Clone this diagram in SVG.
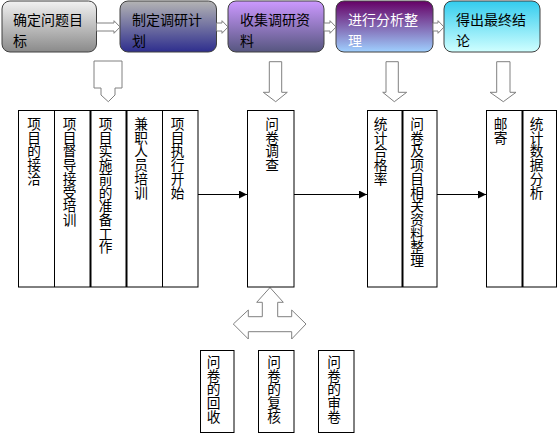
<svg xmlns="http://www.w3.org/2000/svg" width="558" height="434" viewBox="0 0 558 434">
<defs>
<linearGradient id="g1" x1="0" y1="0" x2="0" y2="1"><stop offset="0" stop-color="#f2f2f2"/><stop offset="1" stop-color="#8a8a8a"/></linearGradient>
<linearGradient id="g2" x1="0" y1="0" x2="0" y2="1"><stop offset="0" stop-color="#b4b4b4"/><stop offset="1" stop-color="#2e2e8e"/></linearGradient>
<linearGradient id="g3" x1="0" y1="0" x2="0" y2="1"><stop offset="0" stop-color="#cc99ff"/><stop offset="1" stop-color="#565680"/></linearGradient>
<linearGradient id="g4" x1="0" y1="0" x2="0" y2="1"><stop offset="0" stop-color="#660066"/><stop offset="1" stop-color="#9fd0ff"/></linearGradient>
<linearGradient id="g5" x1="0" y1="0" x2="0" y2="1"><stop offset="0" stop-color="#33ccee"/><stop offset="1" stop-color="#d0ffff"/></linearGradient>
<marker id="ah" viewBox="0 0 10 10" refX="10" refY="5" markerWidth="8" markerHeight="8" markerUnits="userSpaceOnUse" orient="auto"><path d="M0,0 L10,5 L0,10 Z" fill="#000"/></marker>
</defs>
<style>
.tb{stroke:#404040;stroke-width:1}
.tt{font-family:"Noto Sans CJK SC","Noto Sans",sans-serif;font-size:14px;fill:#000}
.tw{fill:#fff}
.vt{font-family:"Noto Sans CJK SC","Noto Sans",sans-serif;font-size:13.7px;fill:#000;writing-mode:vertical-rl;text-orientation:upright}
.box{fill:#fff;stroke:#000;stroke-width:1}
.thick{stroke:#000;stroke-width:2}
.thin{stroke:#000;stroke-width:1}
.ba{fill:#fff;stroke:#808080;stroke-width:1}
.con{stroke:#000;stroke-width:1;fill:none}
</style>
<rect width="558" height="434" fill="#fff"/>

<g id="step1"><rect class="tb" x="2" y="1" width="94.5" height="51" rx="8" fill="url(#g1)"/>
<text class="tt" x="13" y="24.5">确定问题目</text><text class="tt" x="13" y="45.5">标</text></g>
<g id="step2"><rect class="tb" x="120" y="1" width="96.5" height="51" rx="8" fill="url(#g2)"/>
<text class="tt" x="132" y="24.5">制定调研计</text><text class="tt" x="132" y="45.5">划</text></g>
<g id="step3"><rect class="tb" x="228" y="1" width="96" height="51" rx="8" fill="url(#g3)"/>
<text class="tt" x="240" y="24.5">收集调研资</text><text class="tt" x="240" y="45.5">料</text></g>
<g id="step4"><rect class="tb" x="336" y="1" width="97" height="51" rx="8" fill="url(#g4)"/>
<text class="tt tw" x="348" y="24.5">进行分析整</text><text class="tt tw" x="348" y="45.5">理</text></g>
<g id="step5"><rect class="tb" x="444" y="1" width="96" height="51" rx="8" fill="url(#g5)"/>
<text class="tt" x="456" y="24.5">得出最终结</text><text class="tt" x="456" y="45.5">论</text></g>

<g id="block-arrows">
<polygon class="ba" points="96.5,23 114,23 114,20.7 120,27 114,33.3 114,31 96.5,31"/>
<polygon class="ba" points="216.5,23 222,23 222,20.7 228,27 222,33.3 222,31 216.5,31"/>
<polygon class="ba" points="324,23 330,23 330,20.7 336,27 330,33.3 330,31 324,31"/>
<polygon class="ba" points="433,23 438,23 438,20.7 444,27 438,33.3 438,31 433,31"/>
<polygon class="ba" points="94,61 122,61 122,88 115,88 115,95 108.3,101.7 101,95 101,88 94,88"/>
<polygon class="ba" points="269.3,61.7 281.7,61.7 281.7,92.3 287.3,92.3 275.7,101.7 263.3,92.3 269.3,92.3"/>
<polygon class="ba" points="386,61.7 398.3,61.7 398.3,92.3 406.7,92.3 394.3,101.7 382.7,92.3 386,92.3"/>
<polygon class="ba" points="496.7,61.7 510,61.7 510,92.3 516,92.3 503.3,101.7 490,92.3 496.7,92.3"/>
<polygon class="ba" points="270,287.5 283.3,302.3 277.7,302.3 277.7,316.7 291.7,316.7 291.7,310 306,324 291.7,339 291.7,331.7 248.3,331.7 248.3,339 233.3,324 248.3,310 248.3,316.7 262.3,316.7 262.3,302.3 256.7,302.3"/>
</g>

<g id="group1">
<rect class="box" x="18.5" y="110.5" width="179.5" height="176.5"/>
<line class="thin" x1="54.5" y1="110.5" x2="54.5" y2="287"/>
<line class="thick" x1="90.5" y1="110.5" x2="90.5" y2="287"/>
<line class="thick" x1="126.5" y1="110.5" x2="126.5" y2="287"/>
<line class="thin" x1="162.5" y1="110.5" x2="162.5" y2="287"/>
<text class="vt" x="34" y="117">项目的接洽</text>
<text class="vt" x="69.5" y="117">项目督导接受培训</text>
<text class="vt" x="105.5" y="117">项目实施前的准备工作</text>
<text class="vt" x="141" y="117">兼职人员培训</text>
<text class="vt" x="177.5" y="117">项目执行开始</text>
</g>

<g id="survey">
<rect class="box" x="247.5" y="110.5" width="46.5" height="176.5"/>
<text class="vt" x="272" y="117">问卷调查</text>
</g>

<g id="group3">
<rect class="box" x="367.5" y="110.5" width="69.5" height="176.5"/>
<line class="thick" x1="402.5" y1="110.5" x2="402.5" y2="287"/>
<text class="vt" x="380.5" y="117">统计合格率</text>
<text class="vt" x="417" y="117">问卷及项目相关资料整理</text>
</g>

<g id="group4">
<rect class="box" x="486.5" y="110.5" width="70" height="176.5"/>
<line class="thick" x1="522.5" y1="110.5" x2="522.5" y2="287"/>
<text class="vt" x="500.5" y="117">邮寄</text>
<text class="vt" x="536.5" y="117">统计数据分析</text>
</g>

<g id="recover">
<rect class="box" x="200.5" y="350.5" width="33.5" height="82"/>
<text class="vt" x="213.5" y="355">问卷的回收</text>
</g>
<g id="recheck">
<rect class="box" x="258.5" y="350.5" width="35.5" height="82"/>
<text class="vt" x="274" y="355">问卷的复核</text>
</g>
<g id="review">
<rect class="box" x="318.5" y="350.5" width="35.5" height="82"/>
<text class="vt" x="334" y="355">问卷的审卷</text>
</g>

<g id="connectors">
<line class="con" x1="198" y1="194.5" x2="247" y2="194.5" marker-end="url(#ah)"/>
<line class="con" x1="294" y1="194.5" x2="367" y2="194.5" marker-end="url(#ah)"/>
<line class="con" x1="437" y1="194.5" x2="486" y2="194.5" marker-end="url(#ah)"/>
</g>
</svg>
